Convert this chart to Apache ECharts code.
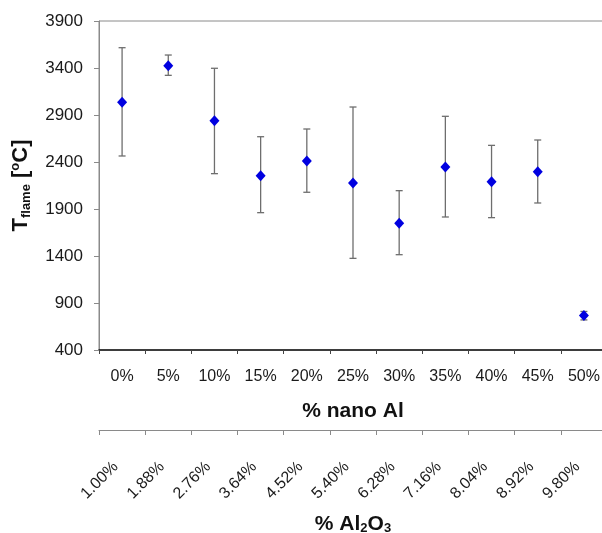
<!DOCTYPE html>
<html>
<head>
<meta charset="utf-8">
<script src="https://cdn.jsdelivr.net/npm/echarts@6/dist/echarts.min.js"></script>
<style>html,body{margin:0;padding:0;background:#fff;overflow:hidden;width:602px;height:533px}#c{width:612px;height:533px}</style>
</head>
<body>
<div id="c"></div>
<script>
const nanoAl = ['0%','5%','10%','15%','20%','25%','30%','35%','40%','45%','50%'];
const al2o3 = ['1.00%','1.88%','2.76%','3.64%','4.52%','5.40%','6.28%','7.16%','8.04%','8.92%','9.80%'];
const tFlame = [3035, 3425, 2840, 2254, 2411, 2177, 1748, 2347, 2191, 2297, 768];
const tUpper = [3616, 3538, 3397, 2669, 2751, 2985, 2095, 2886, 2577, 2634, 810];
const tLower = [2464, 3322, 2276, 1861, 2078, 1375, 1414, 1815, 1808, 1964, 720];
const yTicks = { min: 400, max: 3900, interval: 500 };

const FONT = '"Liberation Sans", Arial, sans-serif';
const chart = echarts.init(document.getElementById('c'));
const errData = nanoAl.map((c, i) => [i, tLower[i], tUpper[i]]);
const ptData = nanoAl.map((c, i) => [i, tFlame[i]]);

chart.setOption({
  animation: false,
  backgroundColor: '#fff',
  grid: { left: 99, top: 21, right: 5, bottom: 183, containLabel: false, outerBoundsMode: 'none', show: true, borderColor: '#8a8a8a', borderWidth: 1 },
  xAxis: [{
    type: 'category', data: nanoAl, gridIndex: 0, position: 'bottom', boundaryGap: true,
    axisLine: { lineStyle: { color: '#111', width: 1.5 } },
    axisTick: { show: true, length: 4, inside: false, interval: 0, lineStyle: { color: '#444' } },
    axisLabel: { interval: 0, margin: 19, fontSize: 16, color: '#1a1a1a', fontFamily: FONT },
    splitLine: { show: false },
    name: '% nano Al', nameLocation: 'middle', nameGap: 51, nameMoveOverlap: false,
    nameTextStyle: { fontSize: 21, fontWeight: 'bold', color: '#111', fontFamily: FONT }
  }, {
    type: 'category', data: al2o3, gridIndex: 0, position: 'bottom', offset: 80, boundaryGap: true,
    axisLine: { onZero: false, lineStyle: { color: '#8a8a8a', width: 1 } },
    axisTick: { show: true, length: 5, interval: 0, lineStyle: { color: '#8a8a8a' } },
    axisLabel: { interval: 0, rotate: 45, margin: 28, padding: [0, 9, 0, 0], fontSize: 16, color: '#1a1a1a', fontFamily: FONT },
    splitLine: { show: false },
    name: '% Al{sub|2}O{sub|3}', nameLocation: 'middle', nameGap: 83, nameMoveOverlap: false,
    nameTextStyle: {
      fontSize: 21, fontWeight: 'bold', color: '#111', fontFamily: FONT, lineHeight: 22,
      rich: { sub: { fontSize: 13, fontWeight: 'bold', color: '#111', fontFamily: FONT, verticalAlign: 'bottom', lineHeight: 10 } }
    }
  }],
  yAxis: {
    type: 'value', min: yTicks.min, max: yTicks.max, interval: yTicks.interval,
    axisLine: { show: true, lineStyle: { color: '#8a8a8a' } },
    axisTick: { show: true, length: 5, lineStyle: { color: '#8a8a8a' } },
    axisLabel: { margin: 16, fontSize: 17, color: '#1a1a1a', fontFamily: FONT, formatter: v => String(v) },
    splitLine: { show: false },
    name: 'T{sub|flame} [{sup|o}C]', nameLocation: 'middle', nameGap: 66, nameMoveOverlap: false,
    nameTextStyle: {
      fontSize: 22, fontWeight: 'bold', color: '#111', fontFamily: FONT, lineHeight: 24,
      rich: {
        sub: { fontSize: 13, fontWeight: 'bold', color: '#111', fontFamily: FONT, verticalAlign: 'bottom', lineHeight: 12 },
        sup: { fontSize: 13, fontWeight: 'bold', color: '#111', fontFamily: FONT, verticalAlign: 'top', lineHeight: 12 }
      }
    }
  },
  series: [{
    type: 'custom', xAxisIndex: 0, yAxisIndex: 0, z: 1,
    data: errData, encode: { x: 0, y: [1, 2] },
    renderItem: function (params, api) {
      const x = api.value(0);
      const top = api.coord([x, api.value(2)]);
      const bot = api.coord([x, api.value(1)]);
      const w = 3.5;
      const st = { stroke: '#6e6e6e', lineWidth: 1.3 };
      return { type: 'group', children: [
        { type: 'line', shape: { x1: top[0], y1: top[1], x2: bot[0], y2: bot[1] }, style: st },
        { type: 'line', shape: { x1: top[0] - w, y1: top[1], x2: top[0] + w, y2: top[1] }, style: st },
        { type: 'line', shape: { x1: bot[0] - w, y1: bot[1], x2: bot[0] + w, y2: bot[1] }, style: st }
      ] };
    }
  }, {
    type: 'scatter', xAxisIndex: 0, yAxisIndex: 0, z: 3,
    data: ptData, symbol: 'diamond', symbolSize: [10, 11],
    itemStyle: { color: '#0000e0', opacity: 1 }
  }]
});
</script>
</body>
</html>
